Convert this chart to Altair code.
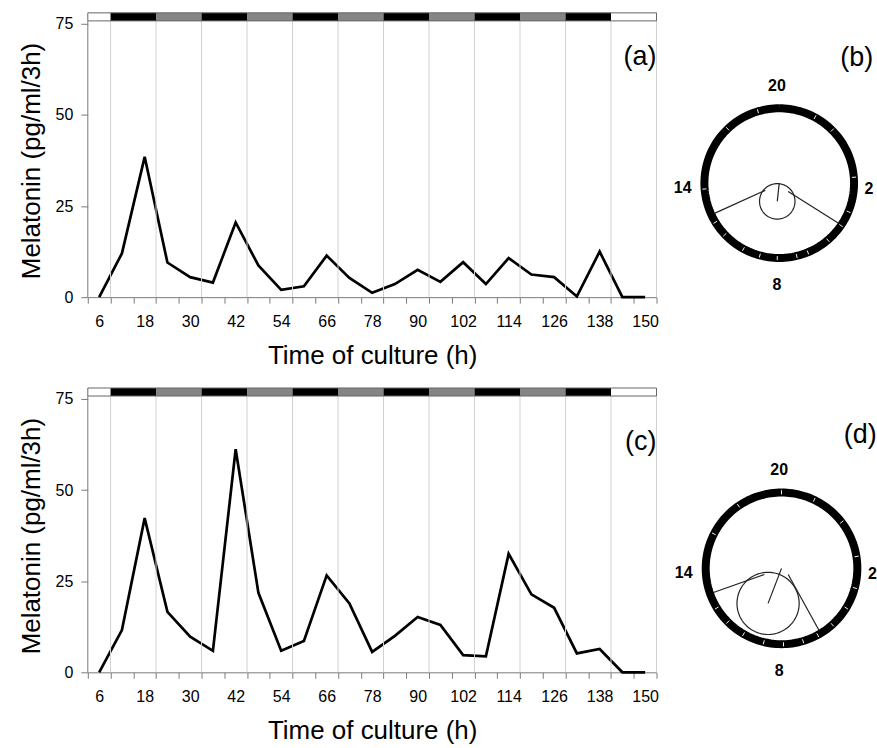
import altair as alt
import numpy as np
import pandas as pd

# ---------------- data ----------------
TIME_H = list(range(6, 151, 6))  # sampling times (h)
MEL_A = [0, 12, 38.5, 9.5, 5.5, 4, 20.5, 8.7, 2, 3, 11.4, 5.3, 1.2, 3.6, 7.5,
         4.2, 9.6, 3.6, 10.7, 6.2, 5.5, 0.2, 12.5, 0, 0]
MEL_C = [0, 11.6, 42.3, 16.6, 9.8, 5.9, 61.2, 21.8, 5.9, 8.6, 26.6, 18.9, 5.6,
         10, 15.2, 13, 4.7, 4.4, 32.5, 21.4, 17.7, 5.2, 6.4, 0, 0]

X_TICKS = list(range(3, 154, 6))
X_LABELS = list(range(6, 151, 12))
Y_TICKS = [0, 25, 50, 75]
GRID_H = list(range(9, 154, 12))

LD_START = [3, 9, 21, 33, 45, 57, 69, 81, 93, 105, 117, 129, 141]
LD_END = [9, 21, 33, 45, 57, 69, 81, 93, 105, 117, 129, 141, 153]
LD_PHASE = ["light", "dark", "subjective", "dark", "subjective", "dark",
            "subjective", "dark", "subjective", "dark", "subjective", "dark", "light"]

CLOCK_LABELS = ["20", "2", "8", "14"]

# circular panels: individual peak times (h), mean vector, confidence radius, tangents
B_PEAKS = [18.9, 21.9, 23.0, 1.7, 3.5, 4.3, 5.3, 6.5, 7.1, 8.1, 9.0, 9.9, 11.1, 11.9, 13.7, 17.1]
B_MEAN_H, B_MEAN_R, B_CONF_R = 8.41, 0.245, 0.237
B_TAN = [(12.17, 0.21, 12.33, 0.955), (4.85, 0.163, 4.27, 0.95)]

D_PEAKS = [20.0, 15.8, 11.9, 11.0, 10.0, 8.9, 7.9, 6.9, 6.1, 5.2, 4.1, 3.0, 1.4, 23.5, 21.7, 17.7]
D_MEAN_H, D_MEAN_R, D_CONF_R = 9.4, 0.495, 0.41
D_TAN = [(12.69, 0.24, 12.7, 0.953), (4.85, 0.12, 5.92, 0.95)]

# ---------------- style ----------------
FONT = "Liberation Sans"
AXIS_GRAY = "#7a7a7a"
GRID_GRAY = "#d2d2d2"
BAR_TOP_LO, BAR_TOP_HI = 75.8, 78.0


def polar(h, r):
    th = np.deg2rad((np.asarray(h, dtype=float) - 20.0) * 15.0)
    return r * np.sin(th), r * np.cos(th)


def line_layers(values, tag, tag_y):
    xs = alt.Scale(domain=[3, 153])
    ys = alt.Scale(domain=[0, 75])
    df = pd.DataFrame({"t": TIME_H, "mel": values})
    label_expr = f"indexof({X_LABELS}, datum.value + 3) >= 0 ? toString(datum.value + 3) : ''"
    x_axis = alt.Axis(orient="bottom", values=X_TICKS, labelExpr=label_expr, labelOffset=11.4,
                      tickSize=6, tickColor=AXIS_GRAY, domainColor=AXIS_GRAY,
                      labelFontSize=16, labelPadding=10, labelFlush=False,
                      labelOverlap=False, grid=False,
                      title="Time of culture (h)", titleFontSize=26,
                      titleFontWeight="normal", titlePadding=13)
    y_axis = alt.Axis(orient="left", values=Y_TICKS, tickSize=7, tickColor=AXIS_GRAY, domain=False,
                      labelFontSize=16, labelPadding=8, grid=False,
                      title="Melatonin (pg/ml/3h)", titleFontSize=26,
                      titleFontWeight="normal", titlePadding=11)

    line = alt.Chart(df).mark_line(color="black", strokeWidth=2.7).encode(
        x=alt.X("t:Q", scale=xs, axis=x_axis),
        y=alt.Y("mel:Q", scale=ys, axis=y_axis),
    )
    grid = alt.Chart(pd.DataFrame({"g": GRID_H})).mark_rule(
        color=GRID_GRAY, strokeWidth=1).encode(
        x=alt.X("g:Q", scale=xs, axis=None),
        y=alt.YDatum(0, scale=ys, axis=None),
        y2=alt.Y2Datum(BAR_TOP_LO),
    )
    yline = alt.Chart(pd.DataFrame({"x0": [3]})).mark_rule(
        color=AXIS_GRAY, strokeWidth=1).encode(
        x=alt.X("x0:Q", scale=xs, axis=None),
        y=alt.YDatum(0, scale=ys, axis=None),
        y2=alt.Y2Datum(BAR_TOP_LO),
    )
    ld = pd.DataFrame({"s": LD_START, "e": LD_END, "phase": LD_PHASE})
    bar = alt.Chart(ld).mark_rect().encode(
        x=alt.X("s:Q", scale=xs, axis=None),
        x2="e:Q",
        y=alt.YDatum(BAR_TOP_LO, scale=ys, axis=None),
        y2=alt.Y2Datum(BAR_TOP_HI),
        color=alt.Color("phase:N", legend=None,
                        scale=alt.Scale(domain=["light", "dark", "subjective"],
                                        range=["#ffffff", "#000000", "#858585"])),
    )
    frame = alt.Chart(pd.DataFrame({"s": [LD_START[0]], "e": [LD_END[-1]]})).mark_rect(
        fillOpacity=0, stroke="#666666", strokeWidth=1).encode(
        x=alt.X("s:Q", scale=xs, axis=None),
        x2="e:Q",
        y=alt.YDatum(BAR_TOP_LO, scale=ys, axis=None),
        y2=alt.Y2Datum(BAR_TOP_HI),
    )
    tag_df = pd.DataFrame({"tag": [tag], "tx": [153], "ty": [tag_y]})
    tag_mark = alt.Chart(tag_df).mark_text(
        align="right", baseline="middle", fontSize=27, font=FONT, color="black").encode(
        x=alt.X("tx:Q", scale=xs, axis=None),
        y=alt.Y("ty:Q", scale=ys, axis=None),
        text="tag:N",
    )
    return [line, grid, yline, bar, frame, tag_mark]


def circle_layers(peaks, mean_h, mean_r, conf_r, tans, tag, geo):
    cx, cy, rad, tag_y = geo
    xs = alt.Scale(domain=[-1, 1], range=[cx - rad, cx + rad])
    ys = alt.Scale(domain=[-1, 1], range=[cy + rad, cy - rad])
    X = lambda f: alt.X(f, scale=xs, axis=None)
    Y = lambda f: alt.Y(f, scale=ys, axis=None)

    deg = np.arange(0, 361, 2)
    rx, ry = np.sin(np.deg2rad(deg)), np.cos(np.deg2rad(deg))
    ring = alt.Chart(pd.DataFrame({"x": rx, "y": ry, "i": np.arange(len(deg))})).mark_line(
        color="black", strokeWidth=8).encode(x=X("x:Q"), y=Y("y:Q"), order="i:Q")

    px0, py0 = polar(peaks, 0.975)
    px1, py1 = polar(peaks, 1.03)
    ticks = alt.Chart(pd.DataFrame({"x": px0, "y": py0, "x2": px1, "y2": py1})).mark_rule(
        color="#f4f4f4", strokeWidth=1).encode(x=X("x:Q"), y=Y("y:Q"), x2="x2:Q", y2="y2:Q")

    mx, my = polar(mean_h, mean_r)
    vec = alt.Chart(pd.DataFrame({"x": [0.0], "y": [0.0], "x2": [float(mx)], "y2": [float(my)]})).mark_rule(
        color="#222222", strokeWidth=1.2).encode(x=X("x:Q"), y=Y("y:Q"), x2="x2:Q", y2="y2:Q")

    cdeg = np.arange(0, 361, 4)
    cxs = mx + conf_r * np.sin(np.deg2rad(cdeg))
    cys = my + conf_r * np.cos(np.deg2rad(cdeg))
    conf = alt.Chart(pd.DataFrame({"x": cxs, "y": cys, "i": np.arange(len(cdeg))})).mark_line(
        color="#222222", strokeWidth=1.2).encode(x=X("x:Q"), y=Y("y:Q"), order="i:Q")

    tx0, ty0 = polar([t[0] for t in tans], np.array([t[1] for t in tans]))
    tx1, ty1 = polar([t[2] for t in tans], np.array([t[3] for t in tans]))
    tan = alt.Chart(pd.DataFrame({"x": tx0, "y": ty0, "x2": tx1, "y2": ty1})).mark_rule(
        color="#222222", strokeWidth=1.2).encode(x=X("x:Q"), y=Y("y:Q"), x2="x2:Q", y2="y2:Q")

    lab = pd.DataFrame({"label": CLOCK_LABELS,
                        "x": [-0.03, 1.14, -0.03, -1.29],
                        "y": [1.30, -0.08, -1.36, -0.06],
                        "al": ["center", "left", "center", "center"]})
    labs_c = alt.Chart(lab[lab.al == "center"]).mark_text(
        fontSize=16, fontWeight="bold", font=FONT, color="black", baseline="middle", align="center").encode(
        x=X("x:Q"), y=Y("y:Q"), text="label:N")
    labs_l = alt.Chart(lab[lab.al == "left"]).mark_text(
        fontSize=16, fontWeight="bold", font=FONT, color="black", baseline="middle", align="left").encode(
        x=X("x:Q"), y=Y("y:Q"), text="label:N")

    tagm = alt.Chart(pd.DataFrame({"tag": [tag], "x": [1.255], "y": [tag_y]})).mark_text(
        fontSize=27, font=FONT, color="black", align="right", baseline="middle").encode(
        x=X("x:Q"), y=Y("y:Q"), text="tag:N")

    return [ring, ticks, vec, conf, tan, labs_c, labs_l, tagm]


row1 = alt.layer(
    *line_layers(MEL_A, "(a)", 66),
    *circle_layers(B_PEAKS, B_MEAN_H, B_MEAN_R, B_CONF_R, B_TAN, "(b)", (693, 159.7, 75, 1.676)),
).resolve_scale(x="independent", y="independent", color="independent").properties(width=570, height=274)

row2 = alt.layer(
    *line_layers(MEL_C, "(c)", 63.1),
    *circle_layers(D_PEAKS, D_MEAN_H, D_MEAN_R, D_CONF_R, D_TAN, "(d)", (695.3, 169.8, 76, 1.76)),
).resolve_scale(x="independent", y="independent", color="independent").properties(width=570, height=274)

chart = alt.vconcat(row1, row2, spacing=19).properties(
    padding={"left": 18, "top": 11, "right": 0, "bottom": 0}
).configure_view(stroke=None).configure_axis(
    labelFont=FONT, titleFont=FONT, labelColor="black", titleColor="black"
).configure_text(font=FONT)

chart.save("out.html", embed_options={"renderer": "svg", "actions": False})
